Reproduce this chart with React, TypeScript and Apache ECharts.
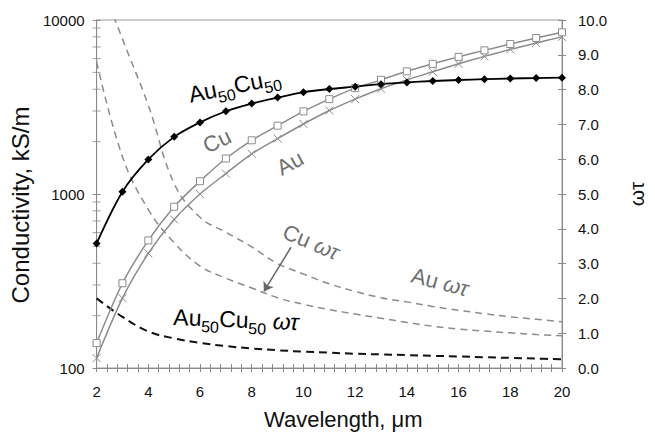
import React, { useEffect, useRef } from "react";
import * as echarts from "echarts";

const WAVELENGTH = [2, 3, 4, 5, 6, 7, 8, 9, 10, 11, 12, 13, 14, 15, 16, 17, 18, 19, 20];

// Conductivity, kS/m (left log axis)
const AU50CU50 = [520, 1030, 1580, 2130, 2580, 2990, 3310, 3580, 3850, 4010, 4140, 4280, 4380, 4460, 4520, 4570, 4610, 4640, 4660];
const CU = [139, 307, 541, 845, 1185, 1600, 2035, 2470, 2985, 3510, 4060, 4530, 5070, 5600, 6140, 6690, 7280, 7880, 8500];
const AU = [114, 252, 456, 714, 1000, 1310, 1700, 2080, 2525, 3020, 3510, 4025, 4530, 5040, 5600, 6180, 6780, 7380, 8000];

// omega*tau (right axis)
const AU50CU50_WT = [2.0, 1.47, 1.05, 0.85, 0.72, 0.63, 0.56, 0.51, 0.47, 0.44, 0.41, 0.39, 0.37, 0.35, 0.33, 0.31, 0.29, 0.27, 0.25];
const CU_WT = [8.8, 6.07, 4.55, 3.6, 2.93, 2.58, 2.3, 2.02, 1.83, 1.68, 1.55, 1.43, 1.31, 1.2, 1.12, 1.06, 1.01, 0.96, 0.93];
const AU_WT = [11.4, 9.45, 7.55, 5.3, 4.33, 3.9, 3.48, 3.0, 2.7, 2.42, 2.2, 2.02, 1.9, 1.77, 1.66, 1.56, 1.47, 1.4, 1.33];

const LOG_MINOR_TICKS = [200, 300, 400, 500, 600, 700, 800, 900, 2000, 3000, 4000, 5000, 6000, 7000, 8000, 9000];
const CU_WT_ARROW = [[9.52, 3.47], [8.47, 2.2]];

const FONT = '"Liberation Sans", Arial, sans-serif';
const AXIS = "#8a8a8a";
const GRAY = "#8c8c8c";
const GRAY_TEXT = "#707070";
const BLACK = "#000";

const pairs = (ys: number[]) => WAVELENGTH.map((x, i) => [x, ys[i]]);

export default function App() {
  const ref = useRef<HTMLDivElement>(null);
  useEffect(() => {
    document.body.style.margin = "0";
    const chart = echarts.init(ref.current!, null, { renderer: "svg" });

    const xBase = {
      type: "value",
      min: 2,
      max: 20,
      interval: 2,
      position: "bottom",
      splitLine: { show: false },
      minorSplitLine: { show: false },
    };
    const tickStyle = { color: AXIS, width: 1 };
    const labelStyle = { fontSize: 15, color: "#111", fontFamily: FONT };
    const nameStyle = { color: "#111", fontFamily: FONT };

    const sub = { fontSize: 16, lineHeight: 18, verticalAlign: "bottom" };
    const main = { fontSize: 23, lineHeight: 28, verticalAlign: "top" };

    const option = {
      animation: false,
      textStyle: { fontFamily: FONT },
      grid: { left: 96, right: 78, top: 20, bottom: 66, show: true, borderColor: "#9a9a9a", borderWidth: 1 },
      xAxis: [
        {
          ...xBase,
          name: "Wavelength, μm",
          nameLocation: "middle",
          nameGap: 40,
          nameTextStyle: { ...nameStyle, fontSize: 22, padding: [0, 0, 0, 28] },
          axisLine: { show: true, lineStyle: tickStyle },
          axisTick: { show: true, inside: false, length: 4, lineStyle: tickStyle },
          minorTick: { show: true, splitNumber: 5, length: 4, lineStyle: tickStyle },
          axisLabel: { ...labelStyle, margin: 16 },
        },
        {
          ...xBase,
          axisLine: { show: false },
          axisTick: { show: true, inside: true, length: 4, lineStyle: tickStyle },
          minorTick: { show: true, splitNumber: 5, length: 4, lineStyle: tickStyle },
          axisLabel: { show: false },
        },
      ],
      yAxis: [
        {
          type: "log",
          logBase: 10,
          min: 100,
          max: 10000,
          position: "left",
          name: "Conductivity, kS/m",
          nameLocation: "middle",
          nameRotate: 90,
          nameGap: 60,
          nameTextStyle: { ...nameStyle, fontSize: 24, padding: [0, 22, 0, 0] },
          axisLine: { show: true, lineStyle: tickStyle },
          axisTick: { show: true, inside: false, length: 4, lineStyle: tickStyle },
          axisLabel: { ...labelStyle, margin: 12, formatter: (v: number) => String(Math.round(v)) },
          splitLine: { show: false },
        },
        {
          type: "value",
          min: 0,
          max: 10,
          interval: 1,
          position: "right",
          name: "ωτ",
          nameLocation: "middle",
          nameRotate: 90,
          nameGap: 64,
          nameTextStyle: { ...nameStyle, fontSize: 21 },
          axisLine: { show: true, lineStyle: tickStyle },
          axisTick: { show: true, inside: false, length: 4, lineStyle: tickStyle },
          axisLabel: { ...labelStyle, margin: 16, formatter: (v: number) => v.toFixed(1) },
          splitLine: { show: false },
        },
        {
          type: "log",
          logBase: 10,
          min: 100,
          max: 10000,
          position: "left",
          axisLine: { show: false },
          axisTick: { show: true, inside: true, length: 4, lineStyle: tickStyle },
          axisLabel: { show: false },
          splitLine: { show: false },
        },
        {
          type: "value",
          min: 0,
          max: 10,
          interval: 1,
          position: "right",
          axisLine: { show: false },
          axisTick: { show: true, inside: true, length: 4, lineStyle: tickStyle },
          axisLabel: { show: false },
          splitLine: { show: false },
        },
      ],
      series: [
        {
          type: "scatter",
          xAxisIndex: 0,
          yAxisIndex: 0,
          data: LOG_MINOR_TICKS.map((v) => [2, v]),
          symbol: "rect",
          symbolSize: [8, 1],
          itemStyle: { color: AXIS },
          silent: true,
          clip: false,
        },
        {
          type: "line",
          name: "Au50Cu50 ωτ",
          yAxisIndex: 1,
          data: pairs(AU50CU50_WT),
          symbol: "none",
          smooth: 0.4,
          lineStyle: { color: "#111", width: 2, type: [8, 5] },
        },
        {
          type: "line",
          name: "Cu ωτ",
          yAxisIndex: 1,
          data: pairs(CU_WT),
          symbol: "none",
          smooth: 0.4,
          lineStyle: { color: GRAY, width: 1.5, type: [7, 5] },
          markLine: {
            silent: true,
            symbol: ["none", "arrow"],
            symbolSize: 9,
            label: { show: false },
            lineStyle: { color: "#666", width: 1.5, type: "solid" },
            data: [[{ coord: CU_WT_ARROW[0] }, { coord: CU_WT_ARROW[1] }]],
          },
        },
        {
          type: "line",
          name: "Au ωτ",
          yAxisIndex: 1,
          data: pairs(AU_WT),
          symbol: "none",
          smooth: 0.4,
          lineStyle: { color: GRAY, width: 1.5, type: [7, 5] },
        },
        {
          type: "line",
          name: "Au",
          yAxisIndex: 0,
          data: pairs(AU),
          smooth: 0.3,
          showAllSymbol: true,
          symbol: "path://M0,0L10,10M10,0L0,10",
          symbolSize: 8,
          itemStyle: { color: "none", borderColor: GRAY, borderWidth: 1 },
          lineStyle: { color: GRAY, width: 1.5 },
        },
        {
          type: "line",
          name: "Cu",
          yAxisIndex: 0,
          data: pairs(CU),
          smooth: 0.3,
          showAllSymbol: true,
          symbol: "rect",
          symbolSize: 7,
          itemStyle: { color: "#fff", borderColor: GRAY, borderWidth: 1 },
          lineStyle: { color: GRAY, width: 1.5 },
        },
        {
          type: "line",
          name: "Au50Cu50",
          yAxisIndex: 0,
          data: pairs(AU50CU50),
          smooth: 0.3,
          showAllSymbol: true,
          symbol: "diamond",
          symbolSize: 8,
          itemStyle: { color: BLACK },
          lineStyle: { color: BLACK, width: 1.8 },
        },
      ],
      graphic: [
        {
          type: "text",
          x: 235,
          y: 88,
          rotation: 0.2,
          style: {
            text: "{m|Au}{s|50}{m|Cu}{s|50}",
            rich: { m: { ...main, fill: BLACK }, s: { ...sub, fill: BLACK } },
            fill: BLACK,
            fontFamily: FONT,
            align: "center",
            verticalAlign: "middle",
          },
        },
        {
          type: "text",
          x: 217,
          y: 141,
          rotation: 0.45,
          style: { text: "Cu", fontSize: 22, fontFamily: FONT, fill: GRAY_TEXT, align: "center", verticalAlign: "middle" },
        },
        {
          type: "text",
          x: 290,
          y: 163,
          rotation: 0.5,
          style: { text: "Au", fontSize: 22, fontFamily: FONT, fill: GRAY_TEXT, align: "center", verticalAlign: "middle" },
        },
        {
          type: "text",
          x: 311,
          y: 242,
          rotation: -0.4,
          style: {
            text: "{m|Cu }{i|ωτ}",
            rich: {
              m: { fontSize: 22, fill: GRAY_TEXT },
              i: { fontSize: 22, fill: GRAY_TEXT, fontStyle: "italic" },
            },
            fontFamily: FONT,
            align: "center",
            verticalAlign: "middle",
          },
        },
        {
          type: "text",
          x: 440,
          y: 282,
          rotation: -0.25,
          style: {
            text: "{m|Au }{i|ωτ}",
            rich: {
              m: { fontSize: 22, fill: GRAY_TEXT },
              i: { fontSize: 22, fill: GRAY_TEXT, fontStyle: "italic" },
            },
            fontFamily: FONT,
            align: "center",
            verticalAlign: "middle",
          },
        },
        {
          type: "text",
          x: 236,
          y: 322,
          rotation: -0.04,
          style: {
            text: "{m|Au}{s|50}{m|Cu}{s|50}{m| }{i|ωτ}",
            rich: {
              m: { ...main, fill: BLACK },
              s: { ...sub, fill: BLACK },
              i: { ...main, fill: BLACK, fontStyle: "italic" },
            },
            fontFamily: FONT,
            align: "center",
            verticalAlign: "middle",
          },
        },
      ],
    };

    chart.setOption(option as any);
    return () => chart.dispose();
  }, []);
  return <div ref={ref} style={{ width: 655, height: 435 }} />;
}
